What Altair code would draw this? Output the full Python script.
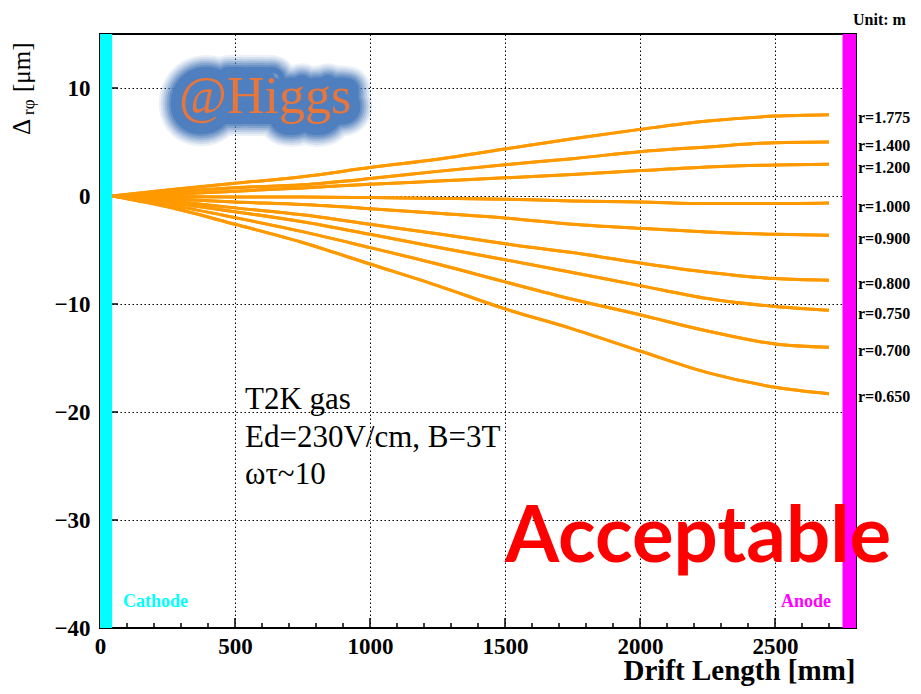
import altair as alt
import pandas as pd

# ---------------- data ----------------
drift_mm = [45, 250, 500, 750, 1000, 1250, 1500, 1750, 2000, 2250, 2500, 2700]

r_1775 = [0, 0.55, 1.17, 1.79, 2.63, 3.40, 4.35, 5.31, 6.17, 6.94, 7.40, 7.53]
r_1400 = [0, 0.35, 0.77, 1.05, 1.61, 2.28, 2.90, 3.46, 4.10, 4.54, 4.94, 5.00]
r_1200 = [0, 0.15, 0.45, 0.75, 1.08, 1.38, 1.68, 2.00, 2.35, 2.69, 2.87, 2.93]
r_1000 = [0, -0.05, -0.10, -0.10, -0.15, -0.22, -0.30, -0.46, -0.55, -0.70, -0.70, -0.65]
r_0900 = [0, -0.25, -0.55, -0.79, -1.17, -1.60, -2.03, -2.62, -3.00, -3.33, -3.55, -3.64]
r_0800 = [0, -0.45, -1.10, -1.74, -2.62, -3.50, -4.42, -5.24, -6.20, -7.05, -7.65, -7.80]
r_0750 = [0, -0.60, -1.45, -2.39, -3.55, -4.75, -5.90, -7.09, -8.30, -9.50, -10.24, -10.58]
r_0700 = [0, -0.80, -2.00, -3.30, -4.78, -6.30, -7.95, -9.56, -11.00, -12.50, -13.70, -14.00]
r_0650 = [0, -1.00, -2.62, -4.30, -6.30, -8.30, -10.45, -12.30, -14.35, -16.35, -17.70, -18.30]

radius_labels = ["r=1.775", "r=1.400", "r=1.200", "r=1.000", "r=0.900",
                 "r=0.800", "r=0.750", "r=0.700", "r=0.650"]
series_values = [r_1775, r_1400, r_1200, r_1000, r_0900, r_0800, r_0750, r_0700, r_0650]

x_major = [0, 500, 1000, 1500, 2000, 2500]
x_minor = [v for v in range(100, 2800, 100) if v % 500 != 0]
y_major = [-40, -30, -20, -10, 0, 10]

band_names = ["Cathode", "Anode"]
band_start = [0, 2750]
band_end = [45, 2800]
band_colors = ["#00FFFF", "#FF00FF"]

X_DOMAIN = [0, 2800]
Y_DOMAIN = [-40, 15]

# ---------------- layout ----------------
W, H = 756, 594
SERIF = "Liberation Serif"
ORANGE = "#FF9900"

rows = []
for lab, vals in zip(radius_labels, series_values):
    for x, y in zip(drift_mm, vals):
        rows.append({"x": x, "y": y, "r": lab})
lines_df = pd.DataFrame(rows)
end_df = pd.DataFrame({"r": radius_labels, "y": [v[-1] for v in series_values]})

x_scale = alt.Scale(domain=X_DOMAIN, nice=False, zero=False)
y_scale = alt.Scale(domain=Y_DOMAIN, nice=False, zero=False)

x_axis = alt.Axis(values=x_major, format="d", grid=True, ticks=False, domain=False,
                  labelFont=SERIF, labelFontWeight="bold", labelFontSize=23, labelColor="black",
                  labelPadding=7, labelFlush=False,
                  gridColor="black", gridDash=[1.5, 2.5], gridWidth=1,
                  title="Drift Length [mm]", titleFont=SERIF, titleFontWeight="bold",
                  titleFontSize=29, titleColor="black", titleX=W - 1, titleY=51,
                  titleAlign="right", titleBaseline="alphabetic", titleAnchor="end")
y_axis = alt.Axis(values=y_major, format="d", grid=True, ticks=False, domain=False,
                  labelFont=SERIF, labelFontWeight="bold", labelFontSize=23, labelColor="black",
                  labelPadding=10, labelFlush=False,
                  gridColor="black", gridDash=[1.5, 2.5], gridWidth=1, title=None)

base = alt.Chart(lines_df)

lines = base.mark_line(color=ORANGE, strokeWidth=3, interpolate="monotone").encode(
    x=alt.X("x:Q", scale=x_scale, axis=x_axis),
    y=alt.Y("y:Q", scale=y_scale, axis=y_axis),
    detail="r:N",
)

x_major_ticks = alt.Chart(pd.DataFrame({"v": x_major})).mark_rule(color="black", strokeWidth=1.5).encode(
    x=alt.X("v:Q", scale=x_scale), y=alt.value(H), y2=alt.value(H - 10))
x_minor_ticks = alt.Chart(pd.DataFrame({"v": x_minor})).mark_rule(color="black", strokeWidth=1.5).encode(
    x=alt.X("v:Q", scale=x_scale), y=alt.value(H), y2=alt.value(H - 5))
y_major_ticks = alt.Chart(pd.DataFrame({"v": y_major})).mark_rule(color="black", strokeWidth=1.5).encode(
    y=alt.Y("v:Q", scale=y_scale), x=alt.value(0), x2=alt.value(18))

bands_df = pd.DataFrame({"name": band_names, "x0": band_start, "x1": band_end, "c": band_colors})
bands = alt.Chart(bands_df).mark_rect().encode(
    x=alt.X("x0:Q", scale=x_scale), x2="x1:Q",
    y=alt.value(0), y2=alt.value(H),
    color=alt.Color("c:N", scale=None),
)

end_labels = alt.Chart(end_df).mark_text(
    align="left", baseline="middle", dy=3.5, font=SERIF, fontWeight="bold", fontSize=16, color="black"
).encode(x=alt.value(W + 2), y=alt.Y("y:Q", scale=y_scale), text="r:N")


def note(text, x, y, **kw):
    return alt.Chart(pd.DataFrame({"t": [text]})).mark_text(**kw).encode(
        x=alt.value(x), y=alt.value(y), text="t:N")


# y-axis title  "Δ_rφ [μm]"  built from rotated pieces
ytitle_delta = note("Δ", -70, 101, angle=270, align="left", baseline="alphabetic",
                    font=SERIF, fontSize=25, color="black")
ytitle_sub = note("rφ", -66, 81, angle=270, align="left", baseline="alphabetic",
                  font=SERIF, fontSize=17, color="black")
ytitle_unit = note("[μm]", -70, 58, angle=270, align="left", baseline="alphabetic",
                   font=SERIF, fontSize=25, color="black")

unit = note("Unit: m", W - 3, -9, align="left", baseline="alphabetic", font=SERIF,
            fontWeight="bold", fontSize=16, color="black")
cathode = note("Cathode", 23, 573, align="left", baseline="alphabetic", font=SERIF,
               fontWeight="bold", fontSize=18, color="#00FFFF")
anode = note("Anode", 731, 573, align="right", baseline="alphabetic", font=SERIF,
             fontWeight="bold", fontSize=18, color="#FF00FF")
gas = note("T2K gas\nEd=230V/cm, B=3T\nωτ~10", 145, 375, align="left", baseline="alphabetic",
           font=SERIF, fontSize=31, color="black", lineBreak="\n", lineHeight=37.5)

GLOW = "#4F7FBE"
glow_layers = [
    note("@Higgs", 79, 79, align="left", baseline="alphabetic", font=SERIF, fontSize=52,
         color=GLOW, stroke=GLOW, strokeWidth=w, strokeJoin="round", opacity=o)
    for w, o in [(46, 0.10), (42, 0.14), (38, 0.18), (34, 0.25), (30, 0.35), (26, 0.5), (22, 1.0)]
]
higgs = note("@Higgs", 79, 79, align="left", baseline="alphabetic", font=SERIF, fontSize=52,
             color="#E8763A")
acceptable = note("Acceptable", 405, 528, align="left", baseline="alphabetic", font="Lato",
                  fontWeight="bold", fontSize=78, color="#FF0000")

chart = alt.layer(
    lines, x_minor_ticks, x_major_ticks, y_major_ticks, bands, lines, end_labels,
    ytitle_delta, ytitle_sub, ytitle_unit,
    unit, cathode, anode, gas, *glow_layers, higgs, acceptable,
).properties(
    width=W, height=H,
    autosize=alt.AutoSizeParams(type="none"),
    padding={"left": 92, "top": 26, "right": 57, "bottom": 58},
    background="white",
).configure_view(stroke="black", strokeWidth=2)

chart.save("out.html", embed_options={"renderer": "svg", "actions": False})
